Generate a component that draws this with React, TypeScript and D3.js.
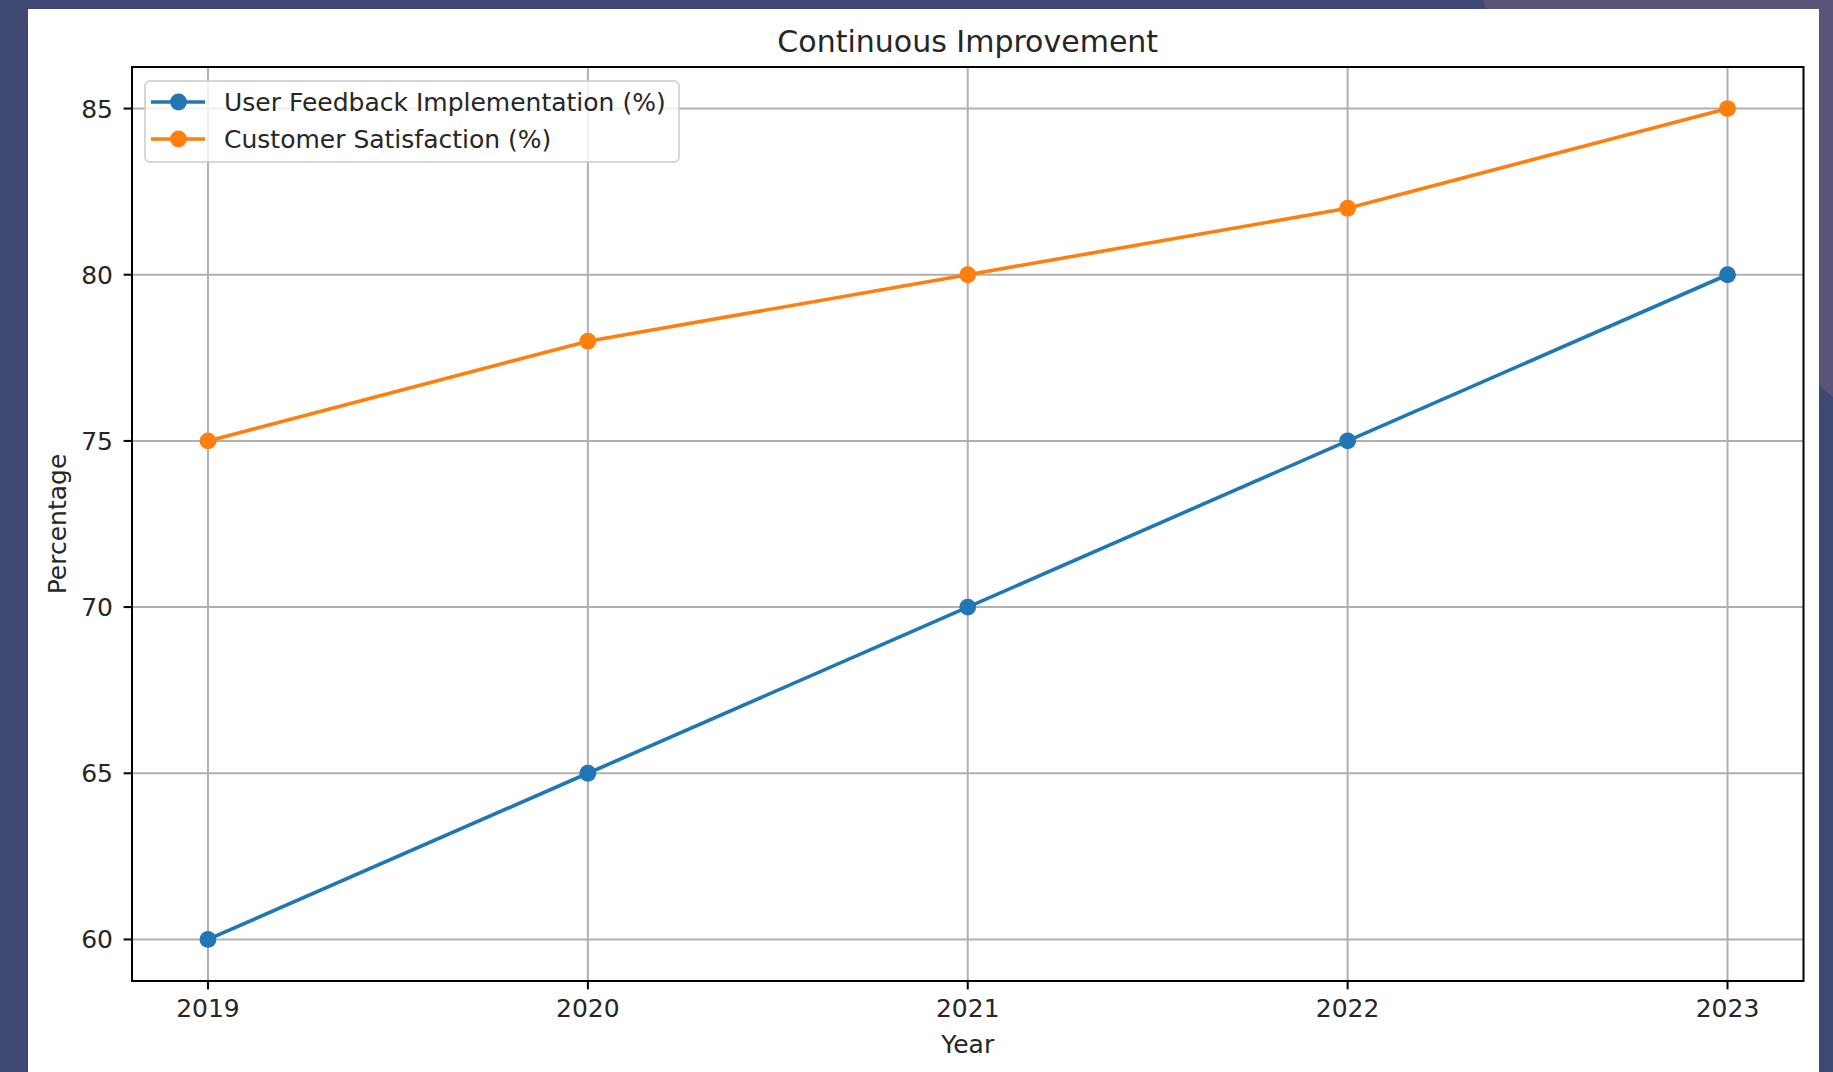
import React from "react";
import * as d3 from "d3";

const years = [2019, 2020, 2021, 2022, 2023];
const feedback = [60, 65, 70, 75, 80];
const satisfaction = [75, 78, 80, 82, 85];
const yTicks = [60, 65, 70, 75, 80, 85];
const seriesNames = ["User Feedback Implementation (%)", "Customer Satisfaction (%)"];
const seriesColors = ["#1f77b4", "#ff7f0e"];
const title = "Continuous Improvement";
const xLabel = "Year";
const yLabel = "Percentage";

const W = 1833;
const H = 1072;
const left = 132, right = 1803.5, top = 67, bottom = 981;
const FONT = "'DejaVu Sans', sans-serif";

export default function App() {
  const x = d3.scaleLinear().domain([2018.8, 2023.2]).range([left, right]);
  const y = d3.scaleLinear().domain([58.75, 86.25]).range([bottom, top]);
  const line = d3.line<number>().x((_, i) => x(years[i])).y((d) => y(d));
  const series = [feedback, satisfaction];

  return (
    <div style={{ position: "absolute", left: 0, top: 0 }}>
      <svg width={W} height={H} style={{ display: "block" }}>
        <rect x={0} y={0} width={W} height={H} fill="#3e4872" />
        <polygon points="1483,0 1833,0 1833,397 1527,134" fill="#5a5478" />
        <rect x={28} y={9} width={1791} height={H - 9} fill="#ffffff" />

        {/* grid */}
        {years.map((yr) => (
          <line key={"gx" + yr} x1={x(yr)} x2={x(yr)} y1={top} y2={bottom} stroke="#b0b0b0" strokeWidth={2} />
        ))}
        {yTicks.map((t) => (
          <line key={"gy" + t} x1={left} x2={right} y1={y(t)} y2={y(t)} stroke="#b0b0b0" strokeWidth={2} />
        ))}

        {/* lines */}
        {series.map((s, si) => (
          <g key={"s" + si}>
            <path d={line(s) || ""} fill="none" stroke={seriesColors[si]} strokeWidth={3.6} />
            {s.map((v, i) => (
              <circle key={i} cx={x(years[i])} cy={y(v)} r={8.4} fill={seriesColors[si]} />
            ))}
          </g>
        ))}

        {/* spines */}
        <rect x={left} y={top} width={right - left} height={bottom - top} fill="none" stroke="#000" strokeWidth={2} />

        {/* x ticks */}
        {years.map((yr) => (
          <g key={"xt" + yr}>
            <line x1={x(yr)} x2={x(yr)} y1={bottom} y2={bottom + 8.4} stroke="#000" strokeWidth={2} />
            <text x={x(yr)} y={1017} textAnchor="middle" fontFamily={FONT} fontSize={25} fill="#262626">
              {yr}
            </text>
          </g>
        ))}

        {/* y ticks */}
        {yTicks.map((t) => (
          <g key={"yt" + t}>
            <line x1={left - 8.4} x2={left} y1={y(t)} y2={y(t)} stroke="#000" strokeWidth={2} />
            <text x={113} y={y(t) + 9} textAnchor="end" fontFamily={FONT} fontSize={25} fill="#262626">
              {t}
            </text>
          </g>
        ))}

        {/* labels */}
        <text x={(left + right) / 2} y={52} textAnchor="middle" fontFamily={FONT} fontSize={30} fill="#262626">
          {title}
        </text>
        <text x={(left + right) / 2} y={1053} textAnchor="middle" fontFamily={FONT} fontSize={25} fill="#262626">
          {xLabel}
        </text>
        <text
          transform={`translate(66, ${(top + bottom) / 2}) rotate(-90)`}
          textAnchor="middle"
          fontFamily={FONT}
          fontSize={25}
          fill="#262626"
        >
          {yLabel}
        </text>

        {/* legend */}
        <rect x={145} y={81} width={534} height={81} rx={5} fill="#ffffff" fillOpacity={0.8} stroke="#cccccc" strokeOpacity={0.8} strokeWidth={2} />
        {seriesNames.map((name, i) => {
          const ly = 102 + i * 37;
          return (
            <g key={"lg" + i}>
              <line x1={151} x2={205} y1={ly} y2={ly} stroke={seriesColors[i]} strokeWidth={3.6} />
              <circle cx={178.5} cy={ly} r={8.4} fill={seriesColors[i]} />
              <text x={224} y={ly + 8.5} fontFamily={FONT} fontSize={25} fill="#262626">
                {name}
              </text>
            </g>
          );
        })}
      </svg>
    </div>
  );
}
